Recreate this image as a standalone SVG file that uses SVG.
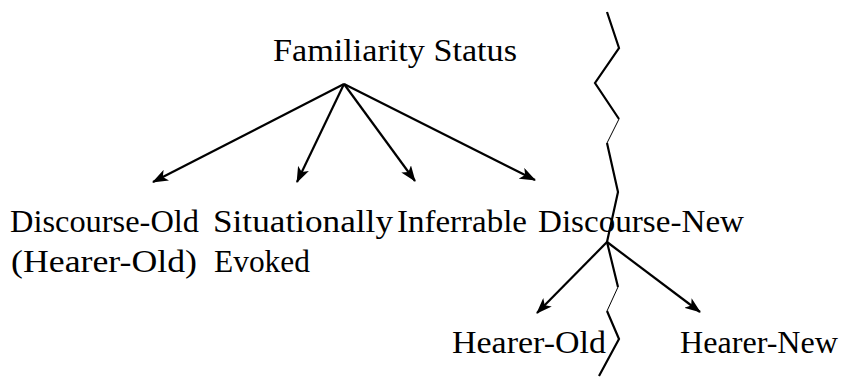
<svg xmlns="http://www.w3.org/2000/svg" width="844" height="379" viewBox="0 0 844 379">
<style>
text{font-family:'Liberation Serif','Times New Roman',serif;font-size:31px;fill:#000}
.e{fill:none;stroke:#000;stroke-width:2.2}
.z{fill:none;stroke:#000;stroke-width:2.2;stroke-linejoin:miter}
.t{fill:none;stroke:#000;stroke-width:1}
</style>
<defs>
<marker id="ah" viewBox="0 0 16 12" refX="15" refY="6" markerWidth="16" markerHeight="12" markerUnits="userSpaceOnUse" orient="auto">
<path d="M0,0 L16,6 L0,12 L4,6 Z" fill="#000"/>
</marker>
</defs>
<rect width="844" height="379" fill="#fff"/>
<g id="n-familiarity"><text x="273" y="61" textLength="244" lengthAdjust="spacingAndGlyphs">Familiarity Status</text></g>
<g id="n-discourse-old"><text x="10" y="232" textLength="189" lengthAdjust="spacingAndGlyphs">Discourse-Old</text><text x="11" y="272" textLength="186" lengthAdjust="spacingAndGlyphs">(Hearer-Old)</text></g>
<g id="n-situationally"><text x="213" y="232" textLength="180" lengthAdjust="spacingAndGlyphs">Situationally</text><text x="214" y="272" textLength="96" lengthAdjust="spacingAndGlyphs">Evoked</text></g>
<g id="n-inferrable"><text x="397" y="232" textLength="130" lengthAdjust="spacingAndGlyphs">Inferrable</text></g>
<g id="n-discourse-new"><text x="538" y="232" textLength="206" lengthAdjust="spacingAndGlyphs">Discourse-New</text></g>
<g id="n-hearer-old"><text x="452" y="353" textLength="154" lengthAdjust="spacingAndGlyphs">Hearer-Old</text></g>
<g id="n-hearer-new"><text x="680" y="353" textLength="158" lengthAdjust="spacingAndGlyphs">Hearer-New</text></g>
<g id="divider">
<polyline class="z" points="607,12 619,48 595,83 619,119"/>
<polyline class="t" points="619,119 607,143"/>
<polyline class="z" points="607,143 618,192 607,242 618,287"/>
<polyline class="t" points="618,287 607,311"/>
<polyline class="z" points="607,311 619,339 599,376"/>
</g>
<g id="connectors">
<line class="e" x1="344" y1="84" x2="153" y2="182" marker-end="url(#ah)"/>
<line class="e" x1="344" y1="84" x2="297" y2="182" marker-end="url(#ah)"/>
<line class="e" x1="344" y1="84" x2="415" y2="181" marker-end="url(#ah)"/>
<line class="e" x1="344" y1="84" x2="535" y2="180" marker-end="url(#ah)"/>
<line class="e" x1="607" y1="242" x2="537" y2="313" marker-end="url(#ah)"/>
<line class="e" x1="607" y1="242" x2="700" y2="312" marker-end="url(#ah)"/>
</g>
</svg>
